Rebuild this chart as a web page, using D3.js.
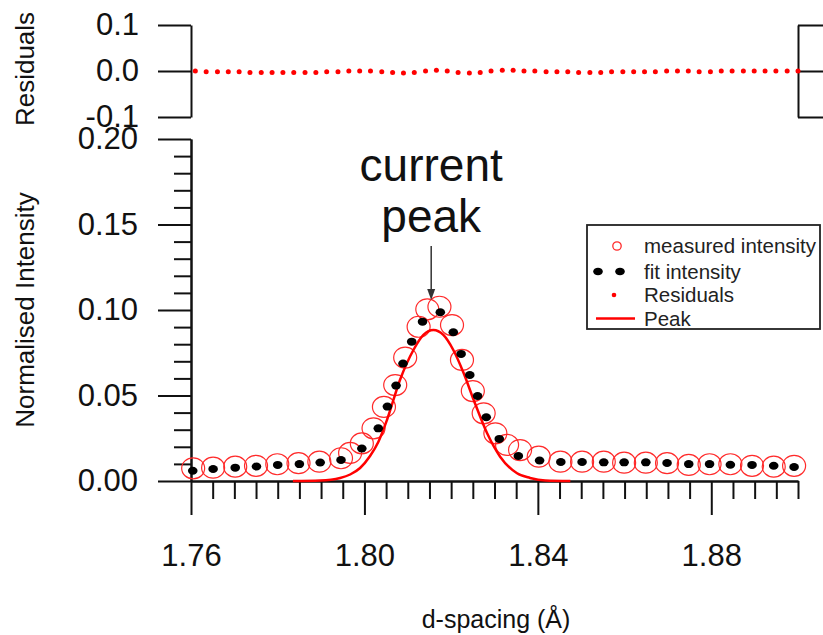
<!DOCTYPE html>
<html>
<head>
<meta charset="utf-8">
<script src="https://cdn.jsdelivr.net/npm/d3@7"></script>
<style>
  html, body { margin: 0; padding: 0; background: #fff; }
  svg { display: block; font-family: "Liberation Sans", Arial, sans-serif; }
</style>
</head>
<body>
<svg id="chart" width="823" height="635"></svg>
<script>
// ---------------- data ----------------
const measuredD = [1.7605,1.7651,1.7702,1.7750,1.7799,1.7848,1.7896,1.7946,1.7967,1.7994,1.8021,1.8045,1.8071,1.8094,1.8125,1.8145,1.8173,1.8202,1.8225,1.8250,1.8275,1.8302,1.8329,1.8359,1.8402,1.8452,1.8502,1.8552,1.8599,1.8649,1.8698,1.8748,1.8796,1.8844,1.8894,1.8944,1.8991];
const measuredI = [0.0074,0.0078,0.0084,0.0089,0.0098,0.0104,0.0113,0.0133,0.0164,0.0220,0.0308,0.0433,0.0561,0.0722,0.0902,0.1004,0.1019,0.0912,0.0708,0.0526,0.0396,0.0279,0.0211,0.0181,0.0142,0.0113,0.0113,0.0113,0.0107,0.0107,0.0104,0.0094,0.0098,0.0098,0.0089,0.0084,0.0089];

const fitD = [1.7604,1.7651,1.7702,1.7751,1.7800,1.7850,1.7898,1.7946,1.7994,1.8032,1.8053,1.8073,1.8089,1.8109,1.8134,1.8175,1.8205,1.8223,1.8243,1.8261,1.8281,1.8311,1.8355,1.8404,1.8453,1.8502,1.8552,1.8599,1.8649,1.8698,1.8748,1.8796,1.8844,1.8894,1.8944,1.8991];
const fitI = [0.0060,0.0070,0.0078,0.0085,0.0094,0.0099,0.0108,0.0123,0.0190,0.0308,0.0435,0.0558,0.0687,0.0815,0.0932,0.0987,0.0870,0.0743,0.0620,0.0497,0.0373,0.0246,0.0146,0.0120,0.0111,0.0111,0.0109,0.0109,0.0109,0.0105,0.0099,0.0099,0.0095,0.0094,0.0089,0.0082];

const peakD = [1.7835,1.7898,1.7944,1.7967,1.7990,1.8013,1.8032,1.8052,1.8082,1.8113,1.8136,1.8159,1.8182,1.8205,1.8229,1.8252,1.8283,1.8313,1.8352,1.8382,1.8417,1.8475];
const peakI = [0.0000,0.0003,0.0018,0.0038,0.0076,0.0146,0.0228,0.0357,0.0591,0.0766,0.0854,0.0883,0.0854,0.0766,0.0630,0.0474,0.0279,0.0142,0.0045,0.0018,0.0003,0.0000];

const residD = [1.7610,1.7635,1.7661,1.7686,1.7711,1.7736,1.7762,1.7787,1.7812,1.7837,1.7863,1.7888,1.7913,1.7939,1.7964,1.7989,1.8014,1.8040,1.8065,1.8090,1.8115,1.8141,1.8166,1.8191,1.8216,1.8242,1.8267,1.8292,1.8318,1.8343,1.8368,1.8393,1.8419,1.8444,1.8469,1.8494,1.8520,1.8545,1.8570,1.8596,1.8621,1.8646,1.8671,1.8697,1.8722,1.8747,1.8772,1.8798,1.8823,1.8848,1.8874,1.8899,1.8924,1.8949,1.8975,1.9000];
const residV = [0,-0.0015,-0.0015,-0.0015,-0.0015,-0.003,-0.003,-0.003,-0.003,-0.003,-0.003,-0.003,-0.0015,-0.0015,0,0,0,-0.0015,-0.003,-0.0045,-0.003,0,0.0015,0,-0.003,-0.0045,-0.003,0,0.0015,0.0015,0,0,-0.0015,-0.0015,-0.0015,-0.003,-0.003,-0.003,-0.0015,-0.0015,-0.0015,-0.0015,-0.0015,0,0,0,-0.0015,-0.0015,0,0,0,0,0,0,0,0];

const xTicks = [1.76, 1.80, 1.84, 1.88];
const xTickLabels = ["1.76", "1.80", "1.84", "1.88"];
const yTicks = [0, 0.05, 0.10, 0.15, 0.20];
const yTickLabels = ["0.00", "0.05", "0.10", "0.15", "0.20"];
const rTicks = [0.1, 0.0, -0.1];
const rTickLabels = ["0.1", "0.0", "-0.1"];
const legendLabels = ["measured intensity", "fit intensity", "Residuals", "Peak"];
const peakAnnotation = ["current", "peak"];
const peakAnnotationD = 1.8154;

// ---------------- layout ----------------
const svg = d3.select("#chart");
const x = d3.scaleLinear().domain([1.76, 1.90]).range([191, 798]);
const y = d3.scaleLinear().domain([0, 0.20]).range([481, 139]);
const yr = d3.scaleLinear().domain([-0.1, 0.1]).range([117, 25]);

const RED = "#ff0000";
const CIRC = "#ff2a2a";
const AX = "#111";
const tickFont = 31;

function styleAxis(g) {
  g.selectAll("path, line").attr("stroke", AX).attr("stroke-width", 2);
  g.selectAll("text").attr("font-size", tickFont).attr("fill", "#111")
    .attr("font-family", "'Liberation Sans', Arial, sans-serif");
}

// ---- top residual panel ----
const yrAxis = d3.axisLeft(yr).tickValues(rTicks)
  .tickFormat((d, i) => rTickLabels[i]).tickSize(33).tickPadding(19).tickSizeOuter(0);
svg.append("g").attr("transform", "translate(191,0)").call(yrAxis).call(styleAxis);

const yrAxisR = d3.axisRight(yr).tickValues(rTicks).tickFormat("").tickSize(33).tickSizeOuter(0);
svg.append("g").attr("transform", "translate(798,0)").call(yrAxisR).call(styleAxis);

svg.append("g").selectAll("circle").data(residD).join("circle")
  .attr("cx", d => x(d)).attr("cy", (d, i) => yr(residV[i]))
  .attr("r", 2.5).attr("fill", RED);

svg.append("text").attr("transform", "translate(34,69) rotate(-90)")
  .attr("text-anchor", "middle").attr("font-size", 26).attr("fill", "#111").text("Residuals");

// ---- bottom panel axes ----
const minorY = d3.range(0, 0.2001, 0.01).filter(v => yTicks.every(t => Math.abs(t - v) > 1e-6));
const minorX = d3.range(1.76, 1.9001, 0.005).filter(v => xTicks.every(t => Math.abs(t - v) > 1e-6));

svg.append("g").attr("transform", "translate(191,0)")
  .call(d3.axisLeft(y).tickValues(minorY).tickFormat("").tickSize(17).tickSizeOuter(0)).call(styleAxis);
svg.append("g").attr("transform", "translate(191,0)")
  .call(d3.axisLeft(y).tickValues(yTicks).tickFormat((d, i) => yTickLabels[i]).tickSize(33).tickPadding(20).tickSizeOuter(0))
  .call(styleAxis);

svg.append("g").attr("transform", "translate(0,481)")
  .call(d3.axisBottom(x).tickValues(minorX).tickFormat("").tickSize(18).tickSizeOuter(0)).call(styleAxis);
svg.append("g").attr("transform", "translate(0,481)")
  .call(d3.axisBottom(x).tickValues(xTicks).tickFormat((d, i) => xTickLabels[i]).tickSize(34).tickPadding(29).tickSizeOuter(0))
  .call(styleAxis);

svg.append("text").attr("transform", "translate(34,310) rotate(-90)")
  .attr("text-anchor", "middle").attr("font-size", 26).attr("fill", "#111").text("Normalised Intensity");
svg.append("text").attr("x", 496).attr("y", 628)
  .attr("text-anchor", "middle").attr("font-size", 25).attr("fill", "#111").text("d-spacing (Å)");

// ---- marks ----
svg.append("g").selectAll("ellipse").data(measuredD).join("ellipse")
  .attr("cx", d => x(d)).attr("cy", (d, i) => y(measuredI[i]))
  .attr("rx", 11.5).attr("ry", 10.5).attr("fill", "none").attr("stroke", CIRC).attr("stroke-width", 1.2);

const peakLine = d3.line().x(d => x(d)).y((d, i) => y(peakI[i])).curve(d3.curveMonotoneX);
svg.append("path").attr("d", peakLine(peakD)).attr("fill", "none")
  .attr("stroke", RED).attr("stroke-width", 2.5);

svg.append("g").selectAll("ellipse").data(fitD).join("ellipse")
  .attr("cx", d => x(d)).attr("cy", (d, i) => y(fitI[i]))
  .attr("rx", 4.8).attr("ry", 4.0).attr("fill", "#000");

// ---- annotation ----
const ax = x(peakAnnotationD);
svg.append("text").attr("x", ax).attr("y", 181).attr("text-anchor", "middle")
  .attr("font-size", 46).attr("fill", "#111").text(peakAnnotation[0]);
svg.append("text").attr("x", ax).attr("y", 232).attr("text-anchor", "middle")
  .attr("font-size", 46).attr("fill", "#111").text(peakAnnotation[1]);
svg.append("line").attr("x1", ax).attr("x2", ax).attr("y1", 246).attr("y2", 291)
  .attr("stroke", "#333").attr("stroke-width", 1.5);
svg.append("path").attr("d", `M${ax - 4},${289} L${ax + 4},${289} L${ax},${300} Z`).attr("fill", "#333");

// ---- legend ----
const lg = svg.append("g");
lg.append("rect").attr("x", 587).attr("y", 225).attr("width", 233).attr("height", 104)
  .attr("fill", "#fff").attr("stroke", "#222").attr("stroke-width", 1.8);
const rowY = [246, 271.5, 295, 318.5];
lg.selectAll("text").data(legendLabels).join("text")
  .attr("x", 644).attr("y", (d, i) => rowY[i]).attr("dy", "0.35em")
  .attr("font-size", 20.5).attr("fill", "#222").text(d => d);
lg.append("circle").attr("cx", 617).attr("cy", rowY[0]).attr("r", 4.2)
  .attr("fill", "none").attr("stroke", CIRC).attr("stroke-width", 1.3);
lg.append("ellipse").attr("cx", 598).attr("cy", rowY[1]).attr("rx", 4.8).attr("ry", 3.8).attr("fill", "#000");
lg.append("ellipse").attr("cx", 620).attr("cy", rowY[1]).attr("rx", 4.8).attr("ry", 3.8).attr("fill", "#000");
lg.append("circle").attr("cx", 614).attr("cy", rowY[2]).attr("r", 2.3).attr("fill", RED);
lg.append("line").attr("x1", 596).attr("x2", 635).attr("y1", rowY[3]).attr("y2", rowY[3])
  .attr("stroke", RED).attr("stroke-width", 2.5);
</script>
</body>
</html>
